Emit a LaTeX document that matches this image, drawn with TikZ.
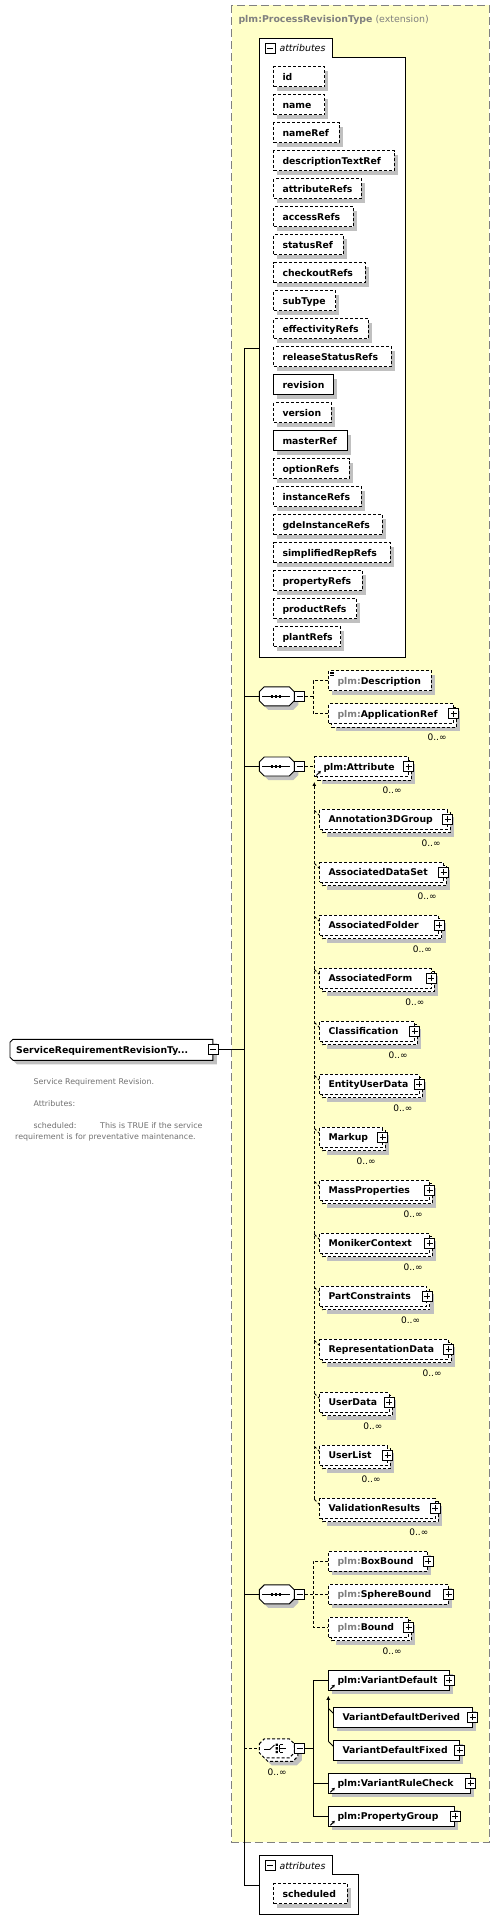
\documentclass[tikz,border=0pt]{standalone}
\usepackage{fontspec}
\setmainfont{DejaVu Sans}
\usetikzlibrary{arrows.meta}
\definecolor{ylw}{RGB}{255,255,200}
\definecolor{shd}{RGB}{192,192,192}
\definecolor{gtxt}{RGB}{128,128,128}
\definecolor{dtxt}{RGB}{112,112,112}
\tikzset{
  bw/.style={line width=0.9pt},
  optb/.style={dash pattern=on 3pt off 2pt},
  elbox/.style={draw=black,fill=white,bw,inner sep=0pt,minimum height=20pt},
  eltext/.style={font=\bfseries\fontsize{9.3}{11}\selectfont,inner sep=0pt,anchor=base west,text=black},
  attrtitle/.style={font=\itshape\fontsize{9.4}{11}\selectfont,inner sep=0pt,anchor=base west},
  multxt/.style={font=\fontsize{9}{10}\selectfont,inner sep=0pt,anchor=base east},
  dsc/.style={font=\fontsize{7.9}{9}\selectfont,inner sep=0pt,anchor=base west,text=dtxt},
  icn/.style={draw=black,fill=white,line width=0.8pt,minimum size=10pt,inner sep=0pt},
  minusicn/.style={icn,path picture={\draw[line width=0.8pt] ([xshift=-3pt]path picture bounding box.center) -- ([xshift=3pt]path picture bounding box.center);}},
  plusicn/.style={icn,path picture={\draw[line width=0.8pt] ([xshift=-3pt]path picture bounding box.center) -- ([xshift=3pt]path picture bounding box.center) ([yshift=-3pt]path picture bounding box.center) -- ([yshift=3pt]path picture bounding box.center);}},
  conn/.style={line width=0.8pt},
  dconn/.style={conn,optb},
  anch/.style={inner sep=0pt,minimum width=35pt,minimum height=19pt},
  octd/.style={draw=black,fill=white,bw},
  refarrow/.style={line width=1pt,-{Stealth[length=3pt,width=3.5pt]}},
  subarrow/.style={-{Latex[length=4pt,width=4pt]}},
}
% octagon path: x0, x1, yc
\newcommand\xsoct[4][]{%
  \path[#1] (#2,#4-4.5) -- (#2+5,#4-9.5) -- (#3-5,#4-9.5) -- (#3,#4-4.5) -- (#3,#4+4.5) -- (#3-5,#4+9.5) -- (#2+5,#4+9.5) -- (#2,#4+4.5) -- cycle;
}
% single element box
\newcommand\xsone[7]{%
  \fill[shd] (#2+4,#3-6) rectangle (#4+4,#3+14);
  \node[elbox,#5,minimum width={#4-#2},anchor=west] (#1) at (#2,#3) {};
  \node[eltext] (#1t) at (#6,#3+3.5) {#7};
}
% stacked (0..unbounded) element box
\newcommand\xsmany[7]{%
  \fill[shd] (#2+7.5,#3-2.5) rectangle (#4+7.5,#3+17.5);
  \draw[elbox,#5] (#2+3.5,#3-6.5) rectangle (#4+3.5,#3+13.5);
  \node[elbox,#5,minimum width={#4-#2},anchor=west] (#1) at (#2,#3) {};
  \node[eltext] (#1t) at (#6,#3+3.5) {#7};
  \node[multxt] (#1m) at (#4-6,#3+27) {0..∞};
}
% sequence compositor
\newcommand\xsseq[2]{%
  \xsoct[fill=shd]{263.3}{298.3}{#2+4}
  \xsoct[octd]{259.3}{294.3}{#2}
  \node[anch,anchor=west] (#1) at (259.3,#2) {};
  \draw[line width=0.8pt] ([xshift=3pt]#1.west) -- ([xshift=-5pt]#1.east);
  \foreach \dx in {-5,-1,3} {\fill ([xshift=\dx pt]#1.center) +(-1.3pt,-1.3pt) rectangle +(1.3pt,1.3pt);}
  \node[minusicn,anchor=west] (#1i) at ([xshift=-0.5pt]#1.east) {};
}
\begin{document}
\begin{tikzpicture}[x=1pt,y=-1pt]
\useasboundingbox (0,0) rectangle (500,1932);
% extension frame
\draw[draw=gtxt,fill=ylw,line width=1pt,dash pattern=on 8pt off 4pt] (231.7,5.3) rectangle (489.3,1842.3);
\node[anchor=base west,inner sep=0pt,text=gtxt,font=\fontsize{9.4}{11}\selectfont] (title) at (238.3,22.8) {\textbf{plm:ProcessRevisionType} (extension)};

% attributes group 1
\draw[bw,fill=white] (259.3,38.3) -- (332.3,38.3) -- (332.3,57.3) -- (405.3,57.3) -- (405.3,657.3) -- (259.3,657.3) -- cycle;
\coordinate (attrL) at (259.3,348.3);
\node[minusicn] (attrI) at (270,48.5) {};
\node[attrtitle] (attrT) at (279.3,52) {attributes};
\foreach \nm/\xr/\st [count=\i from 0] in {id/324.3/0, name/324.3/0, nameRef/338.7/0, descriptionTextRef/393.7/0, attributeRefs/360.7/0, accessRefs/352.7/0, statusRef/342.7/0, checkoutRefs/364.7/0, subType/335.3/0, effectivityRefs/367.7/0, releaseStatusRefs/390.7/0, revision/333.3/1, version/330.7/0, masterRef/347.3/1, optionRefs/348.7/0, instanceRefs/360.7/0, gdeInstanceRefs/381.7/0, simplifiedRepRefs/389.7/0, propertyRefs/361.7/0, productRefs/356.3/0, plantRefs/340.3/0}{
  \pgfmathsetmacro\yc{76.7+28*\i}
  \ifnum\st=1
    \xsone{a\i}{273.3}{\yc}{\xr}{solid}{282.3}{\nm}
  \else
    \xsone{a\i}{273.3}{\yc}{\xr}{optb}{282.3}{\nm}
  \fi
}

% main element
\fill[shd] (14,1046.3) -- (17,1043.3) -- (216.8,1043.3) -- (216.8,1064.3) -- (17,1064.3) -- (14,1061.3) -- cycle;
\draw[bw,fill=white] (10,1042.3) -- (13,1039.3) -- (212.8,1039.3) -- (212.8,1060.3) -- (13,1060.3) -- (10,1057.3) -- cycle;
\node[inner sep=0pt,minimum width=202.8pt,minimum height=21pt,anchor=west] (main) at (10,1049.8) {};
\node[eltext] (mainT) at (16,1053.3) {ServiceRequirementRevisionTy...};
\node[minusicn] (mainI) at (main.east) {};
\node[dsc] (d1) at (33.3,1084.6) {Service Requirement Revision.};
\node[dsc] (d2) at (33.3,1106.6) {Attributes:};
\node[dsc] (d3) at (33.3,1128.6) {scheduled:};
\node[dsc] (d4) at (100,1128.6) {This is TRUE if the service};
\node[dsc] (d5) at (15,1139.6) {requirement is for preventative maintenance.};

% spine
\coordinate (spT) at (244.3,348.3);
\coordinate (spB) at (244.3,1885.3);
\draw[conn] (spT) -- (spB);
\draw[conn] (spT) -- (attrL);
\draw[conn] (mainI.east) -- (mainI.east -| spT);

% sequence 1
\xsseq{sa}{696.3}
\xsone{desc}{328.3}{680.7}{430.7}{optb}{337.3}{\textcolor{gtxt}{plm:}Description}
\foreach \k in {1.8,3.4,5.0} {\draw[line width=0.6pt] ([xshift=1.8pt,yshift=-\k pt]desc.north west) -- ++(4.2pt,0pt);}
\xsmany{appref}{328.3}{713.7}{452.8}{optb}{337.3}{\textcolor{gtxt}{plm:}ApplicationRef}
\node[plusicn] (apprefP) at (appref.east) {};
\coordinate (f1) at (313.3,696.3);
\draw[conn] (sa.west -| spT) -- (sa.west);
\draw[dconn] (sai.east) -- (f1);
\draw[dconn] (desc.west) -| (f1) |- (appref.west);

% sequence 2 with substitution group
\xsseq{sb}{766.5}
\xsmany{attr}{314.3}{766.5}{407.8}{optb}{323.3}{plm:Attribute}
\node[plusicn] (attrP) at (attr.east) {};
\draw[refarrow] ([xshift=2pt,yshift=1.5pt]attr.south west) -- ++(4.5pt,4.5pt);
\draw[conn] (sb.west -| spT) -- (sb.west);
\draw[dconn] (sbi.east) -- (attr.west);
\foreach \nm/\xr [count=\i from 0] in {Annotation3DGroup/446.7, AssociatedDataSet/442.7, AssociatedFolder/438, AssociatedForm/430.5, Classification/413.8, EntityUserData/418.5, Markup/381.7, MassProperties/428.8, MonikerContext/428.8, PartConstraints/426.2, RepresentationData/447.7, UserData/388.5, UserList/386.7, ValidationResults/434.5}{
  \pgfmathsetmacro\yc{819.3+53*\i}
  \xsmany{m\i}{319.3}{\yc}{\xr}{optb}{328.3}{\nm}
  \node[plusicn] (m\i p) at (m\i.east) {};
  \coordinate (ms\i) at (314.3,\yc-9);
  \draw[dconn] (ms\i) -- ([yshift=4pt]m\i.west);
}
\draw[dconn,subarrow] (ms13) -- ([yshift=-5pt]attr.south west);

% sequence 3
\xsseq{sc}{1594.3}
\xsone{boxb}{328.3}{1561.3}{427.3}{optb}{337.3}{\textcolor{gtxt}{plm:}BoxBound}
\node[plusicn] (boxbP) at (boxb.east) {};
\xsone{sph}{328.3}{1594.3}{447.7}{optb}{337.3}{\textcolor{gtxt}{plm:}SphereBound}
\node[plusicn] (sphP) at (sph.east) {};
\xsmany{bnd}{328.3}{1627.3}{407.7}{optb}{337.3}{\textcolor{gtxt}{plm:}Bound}
\node[plusicn] (bndP) at (bnd.east) {};
\coordinate (f3) at (313.3,1594.3);
\draw[conn] (sc.west -| spT) -- (sc.west);
\draw[dconn] (sci.east) -- (sph.west);
\draw[dconn] (boxb.west) -| (f3) |- (bnd.west);

% choice
\xsoct[fill=shd]{266.8}{301.8}{1755.8}
\xsoct[octd,optb]{262.8}{297.8}{1751.8}
\xsoct[octd,optb]{259.3}{294.3}{1748.3}
\node[anch,anchor=west] (ch) at (259.3,1748.3) {};
\draw[line width=0.8pt] (264,1749.5) -- (269.7,1749.5) -- (274.5,1745);
\fill (275.5,1743.6) rectangle (277.8,1745.9) (275.5,1747.2) rectangle (277.8,1749.5) (275.5,1750.8) rectangle (277.8,1753.1);
\draw[line width=0.8pt] (279.7,1744.8) -- (279.7,1752) (279.7,1744.8) -- (283,1744.8) (279.7,1748.4) -- (285.5,1748.4) (279.7,1752) -- (283,1752);
\node[minusicn,anchor=west] (chI) at ([xshift=-0.5pt]ch.east) {};
\node[multxt] (chM) at (286.7,1775.6) {0..∞};
\draw[dconn] (ch.west -| spT) -- (ch.west);

\xsone{vd}{328.3}{1680.3}{448.5}{solid}{337.3}{plm:VariantDefault}
\node[plusicn] (vdP) at (vd.east) {};
\draw[refarrow] ([xshift=2pt,yshift=1.5pt]vd.south west) -- ++(4.5pt,4.5pt);
\xsone{vdd}{333.3}{1717.3}{471.7}{solid}{342.3}{VariantDefaultDerived}
\node[plusicn] (vddP) at (vdd.east) {};
\xsone{vdf}{333.3}{1750.3}{458.7}{solid}{342.3}{VariantDefaultFixed}
\node[plusicn] (vdfP) at (vdf.east) {};
\xsone{vrc}{328.3}{1783.3}{469.7}{solid}{337.3}{plm:VariantRuleCheck}
\node[plusicn] (vrcP) at (vrc.east) {};
\draw[refarrow] ([xshift=2pt,yshift=1.5pt]vrc.south west) -- ++(4.5pt,4.5pt);
\xsone{pg}{328.3}{1816.3}{454.3}{solid}{337.3}{plm:PropertyGroup}
\node[plusicn] (pgP) at (pg.east) {};
\draw[refarrow] ([xshift=2pt,yshift=1.5pt]pg.south west) -- ++(4.5pt,4.5pt);
\coordinate (f4) at (313.3,1748.3);
\draw[conn] (chI.east) -- (f4);
\draw[conn] (vd.west) -| (f4) |- (pg.west);
\draw[conn] (f4 |- vrc.west) -- (vrc.west);
\coordinate (vk1) at (328.3,1708.3);
\coordinate (vk2) at (328.3,1741.3);
\draw[conn,subarrow] (vk2) -- ([yshift=-5pt]vd.south west);
\draw[conn] (vk1) -- ([yshift=4pt]vdd.west);
\draw[conn] (vk2) -- ([yshift=4pt]vdf.west);

% attributes group 2
\draw[bw,fill=white] (259.3,1855.3) -- (332.3,1855.3) -- (332.3,1874.7) -- (358.3,1874.7) -- (358.3,1914) -- (259.3,1914) -- cycle;
\coordinate (attr2L) at (259.3,1885.3);
\node[minusicn] (attr2I) at (270,1865.7) {};
\node[attrtitle] (attr2T) at (279.3,1869) {attributes};
\xsone{sch}{273.3}{1893.7}{346.7}{optb}{282.3}{scheduled}
\draw[conn] (spB) -- (attr2L);
\end{tikzpicture}
\end{document}
